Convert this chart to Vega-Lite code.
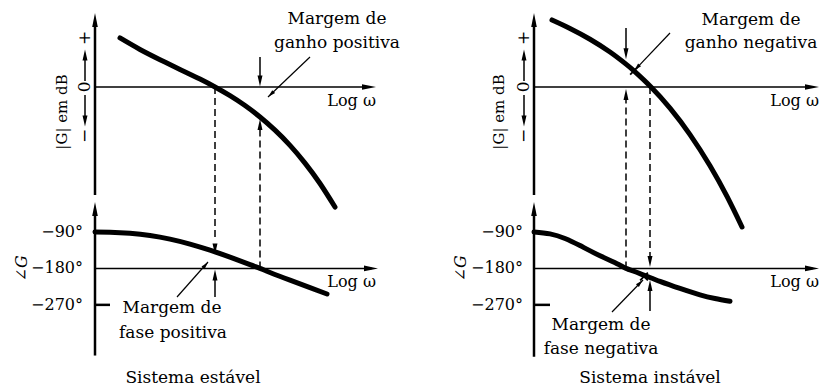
{
  "$schema": "https://vega.github.io/schema/vega-lite/v6.json",
  "padding": 0,
  "spacing": 0,
  "background": "white",
  "config": {
    "view": {"stroke": null},
    "text": {"font": "DejaVu Serif", "fontSize": 17, "color": "#000"}
  },
  "hconcat": [
    {
      "width": 411,
      "height": 390,
      "resolve": {"scale": {"y": "independent"}},
      "layer": [
        {
          "encoding": {
            "x": {"field": "x", "type": "quantitative", "scale": {"domain": [-1.9, 6.32], "nice": false, "zero": false}, "axis": null},
            "y": {"field": "y", "type": "quantitative", "scale": {"domain": [-123.7, 35.5], "nice": false, "zero": false}, "axis": null}
          },
          "layer": [
            {
              "data": {"values": [
                {"x": 0.5, "y": 20.0}, {"x": 0.9, "y": 15.31}, {"x": 1.3, "y": 11.14}, {"x": 1.7, "y": 7.18},
                {"x": 2.1, "y": 3.23}, {"x": 2.4, "y": 0}, {"x": 2.7, "y": -3.55}, {"x": 3.0, "y": -7.59},
                {"x": 3.3, "y": -12.25}, {"x": 3.6, "y": -17.63}, {"x": 3.9, "y": -23.84}, {"x": 4.2, "y": -31.07},
                {"x": 4.5, "y": -39.4}, {"x": 4.8, "y": -49.0}
              ]},
              "mark": {"type": "line", "interpolate": "natural", "strokeWidth": 5, "color": "#000", "strokeCap": "round"}
            },
            {
              "data": {"values": [{"x": 0, "y": -44.1, "x2": 0, "y2": 25}]},
              "mark": {"type": "rule", "strokeWidth": 2.5, "color": "#000"},
              "encoding": {"x2": {"field": "x2"}, "y2": {"field": "y2"}}
            },
            {
              "data": {"values": [{"x": 0, "y": 0, "x2": 5.5, "y2": 0}]},
              "mark": {"type": "rule", "strokeWidth": 1.5, "color": "#000"},
              "encoding": {"x2": {"field": "x2"}, "y2": {"field": "y2"}}
            },
            {
              "data": {"values": [
                {"x": 2.4, "y": 0, "x2": 2.4, "y2": -62.9},
                {"x": 3.3, "y": -74.1, "x2": 3.3, "y2": -17.5}
              ]},
              "mark": {"type": "rule", "strokeWidth": 1.5, "color": "#000", "strokeDash": [7, 4]},
              "encoding": {"x2": {"field": "x2"}, "y2": {"field": "y2"}}
            },
            {
              "data": {"values": [
                {"x": 3.3, "y": 12.25, "x2": 3.3, "y2": 2.0},
                {"x": -0.2, "y": 2.45, "x2": -0.2, "y2": 13.06},
                {"x": -0.2, "y": -3.27, "x2": -0.2, "y2": -13.9}
              ]},
              "mark": {"type": "rule", "strokeWidth": 1.5, "color": "#000"},
              "encoding": {"x2": {"field": "x2"}, "y2": {"field": "y2"}}
            },
            {
              "data": {"values": [{"x": 4.3, "y": 12.25, "x2": 3.46, "y2": -4.08}]},
              "mark": {"type": "rule", "strokeWidth": 1.2, "color": "#000"},
              "encoding": {"x2": {"field": "x2"}, "y2": {"field": "y2"}}
            },
            {
              "data": {"values": [{"x": 0, "y": 27.35}]},
              "mark": {"type": "point", "shape": "M0,-1L0.4,1L-0.4,1Z", "filled": true, "size": 196, "color": "#000", "opacity": 1, "strokeWidth": 0}
            },
            {
              "data": {"values": [{"x": -0.2, "y": 13.06}, {"x": 3.3, "y": -15.3}]},
              "mark": {"type": "point", "shape": "M0,-1L0.45,1L-0.45,1Z", "filled": true, "size": 121, "color": "#000", "opacity": 1, "strokeWidth": 0}
            },
            {
              "data": {"values": [{"x": -0.2, "y": -13.9}, {"x": 3.3, "y": 2.45}]},
              "mark": {"type": "point", "shape": "M0,-1L0.45,1L-0.45,1Z", "filled": true, "size": 121, "angle": 180, "color": "#000", "opacity": 1, "strokeWidth": 0}
            },
            {
              "data": {"values": [{"x": 5.48, "y": 0}]},
              "mark": {"type": "point", "shape": "M0,-1L0.4,1L-0.4,1Z", "filled": true, "size": 196, "angle": 90, "color": "#000", "opacity": 1, "strokeWidth": 0}
            },
            {
              "data": {"values": [{"x": 3.52, "y": -2.94}]},
              "mark": {"type": "point", "shape": "M0,-1L0.55,1L-0.55,1Z", "filled": true, "size": 55, "angle": 226, "color": "#000", "opacity": 1, "strokeWidth": 0}
            },
            {
              "data": {"values": [
                {"x": -0.2, "y": 20, "t": "+"}, {"x": -0.2, "y": 0, "t": "0"}, {"x": -0.2, "y": -20, "t": "−"}
              ]},
              "mark": {"type": "text", "angle": 270, "align": "center", "baseline": "middle", "fontSize": 17},
              "encoding": {"text": {"field": "t"}}
            },
            {
              "data": {"values": [{"x": -0.66, "y": -10.2, "t": "|G| em dB"}]},
              "mark": {"type": "text", "angle": 270, "align": "center", "baseline": "middle", "fontSize": 15},
              "encoding": {"text": {"field": "t"}}
            },
            {
              "data": {"values": [
                {"x": 4.84, "y": 27.8, "t": "Margem de"}, {"x": 4.84, "y": 18.0, "t": "ganho positiva"}
              ]},
              "mark": {"type": "text", "align": "center", "baseline": "middle"},
              "encoding": {"text": {"field": "t"}}
            },
            {
              "data": {"values": [{"x": 5.62, "y": -5.7, "t": "Log ω"}]},
              "mark": {"type": "text", "align": "right", "baseline": "middle", "fontSize": 16},
              "encoding": {"text": {"field": "t"}}
            }
          ]
        },
        {
          "encoding": {
            "x": {"field": "x", "type": "quantitative", "scale": {"domain": [-1.9, 6.32], "nice": false, "zero": false}, "axis": null},
            "y": {"field": "y", "type": "quantitative", "scale": {"domain": [-480, 482], "nice": false, "zero": false}, "axis": null}
          },
          "layer": [
            {
              "data": {"values": [
                {"x": 0, "y": -90}, {"x": 0.3, "y": -90.7}, {"x": 0.7, "y": -93.5}, {"x": 1.1, "y": -98.9},
                {"x": 1.5, "y": -107.8}, {"x": 1.9, "y": -120.1}, {"x": 2.3, "y": -135.2}, {"x": 2.7, "y": -152.4},
                {"x": 3.1, "y": -170.9}, {"x": 3.3, "y": -180}, {"x": 3.5, "y": -190.2}, {"x": 3.9, "y": -209.2},
                {"x": 4.3, "y": -227.4}, {"x": 4.64, "y": -243.2}
              ]},
              "mark": {"type": "line", "interpolate": "natural", "strokeWidth": 5, "color": "#000", "strokeCap": "round"}
            },
            {
              "data": {"values": [{"x": 0, "y": -395, "x2": 0, "y2": -41}, {"x": 0, "y": -270, "x2": 0.3, "y2": -270}]},
              "mark": {"type": "rule", "strokeWidth": 2.5, "color": "#000"},
              "encoding": {"x2": {"field": "x2"}, "y2": {"field": "y2"}}
            },
            {
              "data": {"values": [{"x": 0, "y": -180, "x2": 5.54, "y2": -180}]},
              "mark": {"type": "rule", "strokeWidth": 1.5, "color": "#000"},
              "encoding": {"x2": {"field": "x2"}, "y2": {"field": "y2"}}
            },
            {
              "data": {"values": [{"x": 2.4, "y": -250.6, "x2": 2.4, "y2": -196.3}]},
              "mark": {"type": "rule", "strokeWidth": 1.5, "color": "#000"},
              "encoding": {"x2": {"field": "x2"}, "y2": {"field": "y2"}}
            },
            {
              "data": {"values": [{"x": 1.64, "y": -250.6, "x2": 2.26, "y2": -164.3}]},
              "mark": {"type": "rule", "strokeWidth": 1.2, "color": "#000"},
              "encoding": {"x2": {"field": "x2"}, "y2": {"field": "y2"}}
            },
            {
              "data": {"values": [{"x": 0, "y": -33.5}]},
              "mark": {"type": "point", "shape": "M0,-1L0.4,1L-0.4,1Z", "filled": true, "size": 196, "color": "#000", "opacity": 1, "strokeWidth": 0}
            },
            {
              "data": {"values": [{"x": 2.4, "y": -196.3}]},
              "mark": {"type": "point", "shape": "M0,-1L0.45,1L-0.45,1Z", "filled": true, "size": 121, "color": "#000", "opacity": 1, "strokeWidth": 0}
            },
            {
              "data": {"values": [{"x": 2.4, "y": -132}]},
              "mark": {"type": "point", "shape": "M0,-1L0.45,1L-0.45,1Z", "filled": true, "size": 121, "angle": 180, "color": "#000", "opacity": 1, "strokeWidth": 0}
            },
            {
              "data": {"values": [{"x": 5.52, "y": -180}]},
              "mark": {"type": "point", "shape": "M0,-1L0.4,1L-0.4,1Z", "filled": true, "size": 196, "angle": 90, "color": "#000", "opacity": 1, "strokeWidth": 0}
            },
            {
              "data": {"values": [{"x": 2.21, "y": -171.7}]},
              "mark": {"type": "point", "shape": "M0,-1L0.55,1L-0.55,1Z", "filled": true, "size": 55, "angle": 41.5, "color": "#000", "opacity": 1, "strokeWidth": 0}
            },
            {
              "data": {"values": [
                {"x": -0.24, "y": -90, "t": "−90°"}, {"x": -0.24, "y": -180, "t": "−180°"}, {"x": -0.24, "y": -270, "t": "−270°"}
              ]},
              "mark": {"type": "text", "align": "right", "baseline": "middle", "fontSize": 16},
              "encoding": {"text": {"field": "t"}}
            },
            {
              "data": {"values": [{"x": -1.46, "y": -180, "t": "∠G"}]},
              "mark": {"type": "text", "angle": 270, "align": "center", "baseline": "middle", "fontSize": 16, "fontStyle": "italic"},
              "encoding": {"text": {"field": "t"}}
            },
            {
              "data": {"values": [
                {"x": 1.54, "y": -277.7, "t": "Margem de"}, {"x": 1.56, "y": -339.4, "t": "fase positiva"},
                {"x": 1.96, "y": -450.4, "t": "Sistema estável"}
              ]},
              "mark": {"type": "text", "align": "center", "baseline": "middle"},
              "encoding": {"text": {"field": "t"}}
            },
            {
              "data": {"values": [{"x": 5.62, "y": -213.6, "t": "Log ω"}]},
              "mark": {"type": "text", "align": "right", "baseline": "middle", "fontSize": 16},
              "encoding": {"text": {"field": "t"}}
            }
          ]
        }
      ]
    },
    {
      "width": 411,
      "height": 390,
      "resolve": {"scale": {"y": "independent"}},
      "layer": [
        {
          "encoding": {
            "x": {"field": "x", "type": "quantitative", "scale": {"domain": [-2.46, 5.76], "nice": false, "zero": false}, "axis": null},
            "y": {"field": "y", "type": "quantitative", "scale": {"domain": [-123.7, 35.5], "nice": false, "zero": false}, "axis": null}
          },
          "layer": [
            {
              "data": {"values": [
                {"x": 0.36, "y": 27.35}, {"x": 0.72, "y": 23.9}, {"x": 1.12, "y": 19.49}, {"x": 1.52, "y": 14.26},
                {"x": 1.84, "y": 9.33}, {"x": 2.0, "y": 6.57}, {"x": 2.34, "y": 0}, {"x": 2.72, "y": -8.65},
                {"x": 3.12, "y": -19.43}, {"x": 3.52, "y": -32.16}, {"x": 3.86, "y": -44.69}, {"x": 4.16, "y": -57.15}
              ]},
              "mark": {"type": "line", "interpolate": "natural", "strokeWidth": 5, "color": "#000", "strokeCap": "round"}
            },
            {
              "data": {"values": [{"x": 0, "y": -44.1, "x2": 0, "y2": 25}]},
              "mark": {"type": "rule", "strokeWidth": 2.5, "color": "#000"},
              "encoding": {"x2": {"field": "x2"}, "y2": {"field": "y2"}}
            },
            {
              "data": {"values": [{"x": 0, "y": 0, "x2": 5.58, "y2": 0}]},
              "mark": {"type": "rule", "strokeWidth": 1.5, "color": "#000"},
              "encoding": {"x2": {"field": "x2"}, "y2": {"field": "y2"}}
            },
            {
              "data": {"values": [
                {"x": 1.84, "y": -74.1, "x2": 1.84, "y2": -4.5},
                {"x": 2.32, "y": 0, "x2": 2.32, "y2": -69.4}
              ]},
              "mark": {"type": "rule", "strokeWidth": 1.5, "color": "#000", "strokeDash": [7, 4]},
              "encoding": {"x2": {"field": "x2"}, "y2": {"field": "y2"}}
            },
            {
              "data": {"values": [
                {"x": 1.84, "y": 24.1, "x2": 1.84, "y2": 15.1},
                {"x": -0.2, "y": 2.45, "x2": -0.2, "y2": 13.06},
                {"x": -0.2, "y": -3.27, "x2": -0.2, "y2": -13.9}
              ]},
              "mark": {"type": "rule", "strokeWidth": 1.5, "color": "#000"},
              "encoding": {"x2": {"field": "x2"}, "y2": {"field": "y2"}}
            },
            {
              "data": {"values": [{"x": 2.72, "y": 22.04, "x2": 2.0, "y2": 6.6}]},
              "mark": {"type": "rule", "strokeWidth": 1.2, "color": "#000"},
              "encoding": {"x2": {"field": "x2"}, "y2": {"field": "y2"}}
            },
            {
              "data": {"values": [{"x": 0, "y": 27.35}]},
              "mark": {"type": "point", "shape": "M0,-1L0.4,1L-0.4,1Z", "filled": true, "size": 196, "color": "#000", "opacity": 1, "strokeWidth": 0}
            },
            {
              "data": {"values": [{"x": -0.2, "y": 13.06}, {"x": 1.84, "y": -3.1}]},
              "mark": {"type": "point", "shape": "M0,-1L0.45,1L-0.45,1Z", "filled": true, "size": 121, "color": "#000", "opacity": 1, "strokeWidth": 0}
            },
            {
              "data": {"values": [{"x": -0.2, "y": -13.9}, {"x": 1.84, "y": 13.6}, {"x": 2.32, "y": -71.2}]},
              "mark": {"type": "point", "shape": "M0,-1L0.45,1L-0.45,1Z", "filled": true, "size": 121, "angle": 180, "color": "#000", "opacity": 1, "strokeWidth": 0}
            },
            {
              "data": {"values": [{"x": 5.56, "y": 0}]},
              "mark": {"type": "point", "shape": "M0,-1L0.4,1L-0.4,1Z", "filled": true, "size": 196, "angle": 90, "color": "#000", "opacity": 1, "strokeWidth": 0}
            },
            {
              "data": {"values": [{"x": 2.06, "y": 7.9}]},
              "mark": {"type": "point", "shape": "M0,-1L0.55,1L-0.55,1Z", "filled": true, "size": 55, "angle": 224, "color": "#000", "opacity": 1, "strokeWidth": 0}
            },
            {
              "data": {"values": [{"x": 2.0, "y": 6.6}]},
              "mark": {"type": "point", "shape": "M-1,-1L1,1M-1,1L1,-1", "filled": false, "size": 60, "strokeWidth": 1.8, "color": "#000", "opacity": 1}
            },
            {
              "data": {"values": [
                {"x": -0.2, "y": 20, "t": "+"}, {"x": -0.2, "y": 0, "t": "0"}, {"x": -0.2, "y": -20, "t": "−"}
              ]},
              "mark": {"type": "text", "angle": 270, "align": "center", "baseline": "middle", "fontSize": 17},
              "encoding": {"text": {"field": "t"}}
            },
            {
              "data": {"values": [{"x": -0.7, "y": -10.2, "t": "|G| em dB"}]},
              "mark": {"type": "text", "angle": 270, "align": "center", "baseline": "middle", "fontSize": 15},
              "encoding": {"text": {"field": "t"}}
            },
            {
              "data": {"values": [
                {"x": 4.34, "y": 27.35, "t": "Margem de"}, {"x": 4.34, "y": 17.96, "t": "ganho negativa"}
              ]},
              "mark": {"type": "text", "align": "center", "baseline": "middle"},
              "encoding": {"text": {"field": "t"}}
            },
            {
              "data": {"values": [{"x": 5.7, "y": -5.7, "t": "Log ω"}]},
              "mark": {"type": "text", "align": "right", "baseline": "middle", "fontSize": 16},
              "encoding": {"text": {"field": "t"}}
            }
          ]
        },
        {
          "encoding": {
            "x": {"field": "x", "type": "quantitative", "scale": {"domain": [-2.46, 5.76], "nice": false, "zero": false}, "axis": null},
            "y": {"field": "y", "type": "quantitative", "scale": {"domain": [-480, 482], "nice": false, "zero": false}, "axis": null}
          },
          "layer": [
            {
              "data": {"values": [
                {"x": 0, "y": -90}, {"x": 0.32, "y": -95.0}, {"x": 0.62, "y": -106.3}, {"x": 0.92, "y": -123.8},
                {"x": 1.32, "y": -148.9}, {"x": 1.72, "y": -172.1}, {"x": 1.84, "y": -180}, {"x": 2.12, "y": -192.9},
                {"x": 2.52, "y": -212.1}, {"x": 2.92, "y": -229.6}, {"x": 3.32, "y": -245.4}, {"x": 3.62, "y": -254.3},
                {"x": 3.92, "y": -261.2}
              ]},
              "mark": {"type": "line", "interpolate": "natural", "strokeWidth": 5, "color": "#000", "strokeCap": "round"}
            },
            {
              "data": {"values": [{"x": 0, "y": -398, "x2": 0, "y2": -41}, {"x": 0, "y": -270, "x2": 0.32, "y2": -270}]},
              "mark": {"type": "rule", "strokeWidth": 2.5, "color": "#000"},
              "encoding": {"x2": {"field": "x2"}, "y2": {"field": "y2"}}
            },
            {
              "data": {"values": [{"x": 0, "y": -180, "x2": 5.58, "y2": -180}]},
              "mark": {"type": "rule", "strokeWidth": 1.5, "color": "#000"},
              "encoding": {"x2": {"field": "x2"}, "y2": {"field": "y2"}}
            },
            {
              "data": {"values": [{"x": 2.32, "y": -285.1, "x2": 2.32, "y2": -228.4}]},
              "mark": {"type": "rule", "strokeWidth": 1.5, "color": "#000"},
              "encoding": {"x2": {"field": "x2"}, "y2": {"field": "y2"}}
            },
            {
              "data": {"values": [{"x": 1.56, "y": -287.6, "x2": 2.18, "y2": -208.7}]},
              "mark": {"type": "rule", "strokeWidth": 1.2, "color": "#000"},
              "encoding": {"x2": {"field": "x2"}, "y2": {"field": "y2"}}
            },
            {
              "data": {"values": [{"x": 0, "y": -33.5}]},
              "mark": {"type": "point", "shape": "M0,-1L0.4,1L-0.4,1Z", "filled": true, "size": 196, "color": "#000", "opacity": 1, "strokeWidth": 0}
            },
            {
              "data": {"values": [{"x": 2.32, "y": -222}]},
              "mark": {"type": "point", "shape": "M0,-1L0.45,1L-0.45,1Z", "filled": true, "size": 121, "color": "#000", "opacity": 1, "strokeWidth": 0}
            },
            {
              "data": {"values": [{"x": 5.56, "y": -180}]},
              "mark": {"type": "point", "shape": "M0,-1L0.4,1L-0.4,1Z", "filled": true, "size": 196, "angle": 90, "color": "#000", "opacity": 1, "strokeWidth": 0}
            },
            {
              "data": {"values": [{"x": 2.12, "y": -215.8}]},
              "mark": {"type": "point", "shape": "M0,-1L0.55,1L-0.55,1Z", "filled": true, "size": 55, "angle": 44, "color": "#000", "opacity": 1, "strokeWidth": 0}
            },
            {
              "data": {"values": [{"x": 2.2, "y": -200}]},
              "mark": {"type": "point", "shape": "M-1,-1L1,1M-1,1L1,-1", "filled": false, "size": 60, "strokeWidth": 1.8, "color": "#000", "opacity": 1}
            },
            {
              "data": {"values": [
                {"x": -0.22, "y": -90, "t": "−90°"}, {"x": -0.22, "y": -180, "t": "−180°"}, {"x": -0.22, "y": -270, "t": "−270°"}
              ]},
              "mark": {"type": "text", "align": "right", "baseline": "middle", "fontSize": 16},
              "encoding": {"text": {"field": "t"}}
            },
            {
              "data": {"values": [{"x": -1.46, "y": -180, "t": "∠G"}]},
              "mark": {"type": "text", "angle": 270, "align": "center", "baseline": "middle", "fontSize": 16, "fontStyle": "italic"},
              "encoding": {"text": {"field": "t"}}
            },
            {
              "data": {"values": [
                {"x": 1.34, "y": -319.7, "t": "Margem de"}, {"x": 1.34, "y": -378.9, "t": "fase negativa"},
                {"x": 2.32, "y": -450.4, "t": "Sistema instável"}
              ]},
              "mark": {"type": "text", "align": "center", "baseline": "middle"},
              "encoding": {"text": {"field": "t"}}
            },
            {
              "data": {"values": [{"x": 5.7, "y": -213.6, "t": "Log ω"}]},
              "mark": {"type": "text", "align": "right", "baseline": "middle", "fontSize": 16},
              "encoding": {"text": {"field": "t"}}
            }
          ]
        }
      ]
    }
  ]
}
